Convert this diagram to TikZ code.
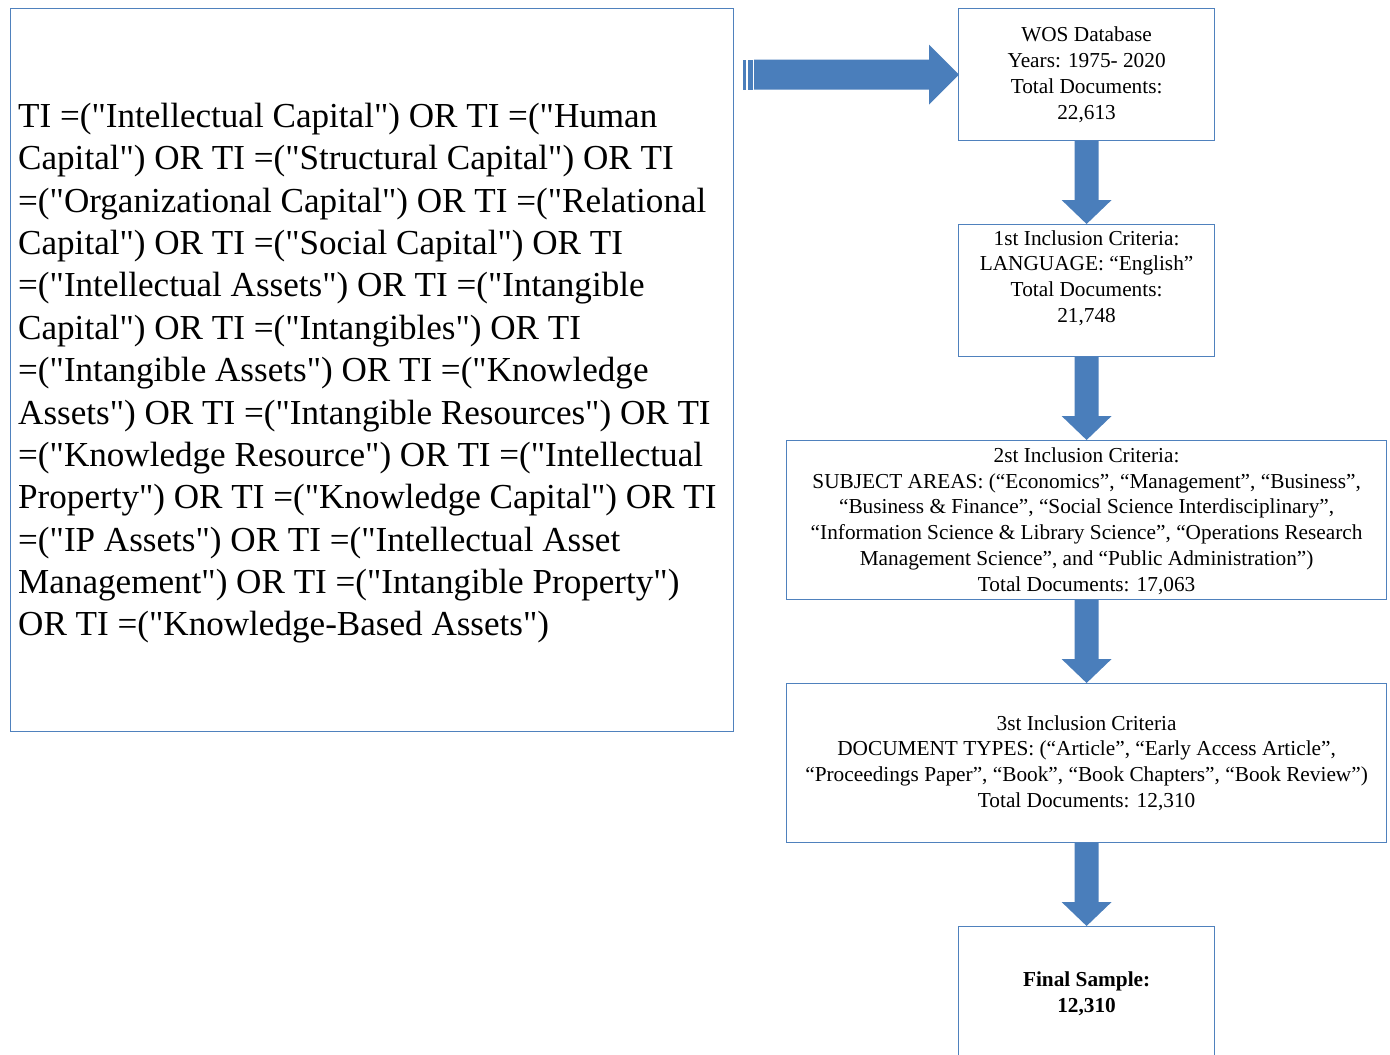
\documentclass[tikz,border=0pt]{standalone}
\usepackage{fontspec}
\setmainfont{Liberation Serif}[Ligatures=TeXOff]
\usetikzlibrary{calc}
\definecolor{boxline}{HTML}{4F81BD}
\definecolor{arrowfill}{HTML}{4A7EBB}
\tikzset{
  frame/.style={draw=boxline, line width=1.2pt, fill=white, inner sep=0pt, anchor=north west},
  boxtext/.style={align=center, font=\fontsize{21.3}{25.8}\selectfont, inner sep=0pt},
  querytext/.style={align=left, font=\fontsize{35.1}{42.35}\selectfont, inner sep=0pt, anchor=north west},
  blockarrow/.style={fill=arrowfill, draw=none}
}
% downward block arrow from the bottom of one box to the top of the next
\newcommand{\blockdown}[2]{%
  \fill[blockarrow] ($(#1.south)+(-12,0)$) -- ($(#2.north)+(-12,-24)$) -- ($(#2.north)+(-25,-24)$)
    -- (#2.north) -- ($(#2.north)+(25,-24)$) -- ($(#2.north)+(12,-24)$) -- ($(#1.south)+(12,0)$) -- cycle;}
\begin{document}
\begin{tikzpicture}[x=1pt, y=-1pt]
\useasboundingbox (0,0) rectangle (1390,1055);
\clip (0,0) rectangle (1390,1055);

% search query box
\node[frame, minimum width=723pt, minimum height=723pt] (query) at (10,8) {};
\node[querytext] (qtext) at (18,103) {%
TI =("Intellectual Capital") OR TI =("Human\\
Capital") OR TI =("Structural Capital") OR TI\\
=("Organizational Capital") OR TI =("Relational\\
Capital") OR TI =("Social Capital") OR TI\\
=("Intellectual Assets") OR TI =("Intangible\\
Capital") OR TI =("Intangibles") OR TI\\
=("Intangible Assets") OR TI =("Knowledge\\
Assets") OR TI =("Intangible Resources") OR TI\\
=("Knowledge Resource") OR TI =("Intellectual\\
Property") OR TI =("Knowledge Capital") OR TI\\
=("IP Assets") OR TI =("Intellectual Asset\\
Management") OR TI =("Intangible Property")\\
OR TI =("Knowledge-Based Assets")};

% flow boxes
\node[frame, minimum width=256pt, minimum height=132pt] (wos) at (958,8) {};
\node[frame, minimum width=256pt, minimum height=132pt] (inc1) at (958,224) {};
\node[frame, minimum width=600pt, minimum height=159pt] (inc2) at (786,440) {};
\node[frame, minimum width=600pt, minimum height=159pt] (inc3) at (786,683) {};
\node[frame, minimum width=256pt, minimum height=136pt] (final) at (958,926) {};

\node[boxtext] (wostext) at (wos.center) {WOS Database\\Years: 1975- 2020\\Total Documents:\\22,613};
\node[boxtext, yshift=12.5pt] (inc1text) at (inc1.center) {1st Inclusion Criteria:\\LANGUAGE: “English”\\Total Documents:\\21,748};
\node[boxtext, yshift=-1pt] (inc2text) at (inc2.center) {2st Inclusion Criteria:\\
SUBJECT AREAS: (“Economics”, “Management”, “Business”,\\
“Business \& Finance”, “Social Science Interdisciplinary”,\\
“Information Science \& Library Science”, “Operations Research\\
Management Science”, and “Public Administration”)\\
Total Documents: 17,063};
\node[boxtext] (inc3text) at (inc3.center) {3st Inclusion Criteria\\
DOCUMENT TYPES: (“Article”, “Early Access Article”,\\
“Proceedings Paper”, “Book”, “Book Chapters”, “Book Review”)\\
Total Documents: 12,310};
\node[boxtext, font=\fontsize{21.3}{25.8}\selectfont\bfseries] (finaltext) at ($(final.north)+(0,68)$) {Final Sample:\\12,310};

% striped right arrow from the query to the database
\coordinate (rs) at ($(query.east |- wos.west)+(9,0)$);
\fill[blockarrow] ($(rs)+(0,-15)$) rectangle ($(rs)+(3,15)$);
\fill[blockarrow] ($(rs)+(5,-15)$) rectangle ($(rs)+(10,15)$);
\fill[blockarrow] ($(rs)+(11,-15)$) -- ($(wos.west)+(-29,-15)$) -- ($(wos.west)+(-29,-30)$)
  -- ($(wos.west)+(1,0)$) -- ($(wos.west)+(-29,30)$) -- ($(wos.west)+(-29,15)$) -- ($(rs)+(11,15)$) -- cycle;

% downward arrows between the stages
\blockdown{wos}{inc1}
\blockdown{inc1}{inc2}
\blockdown{inc2}{inc3}
\blockdown{inc3}{final}
\end{tikzpicture}
\end{document}
